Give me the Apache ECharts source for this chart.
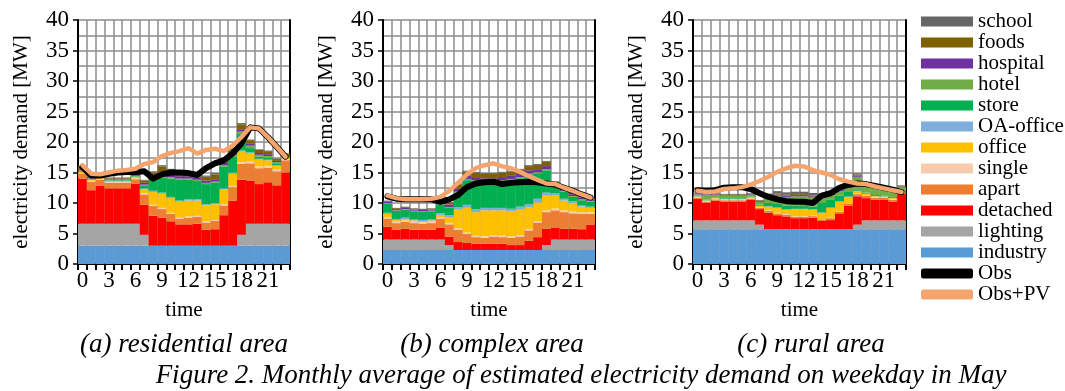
<!DOCTYPE html>
<html>
<head>
<meta charset="utf-8">
<script src="https://cdn.jsdelivr.net/npm/echarts@6/dist/echarts.min.js"></script>
<style>
html,body{margin:0;padding:0;background:#fff;}
#c{width:1065px;height:391px;}
</style>
</head>
<body>
<div id="c"></div>
<script>
// ---------- categories / ticks ----------
const hours = ['0','1','2','3','4','5','6','7','8','9','10','11','12','13','14','15','16','17','18','19','20','21','22','23'];
const yTicks = [0,5,10,15,20,25,30,35,40];

// ---------- (a) residential area ----------
const industryA  = [3.0,3.0,3.0,3.0,3.0,3.0,3.0,3.0,3.0,3.0,3.0,3.0,3.0,3.0,3.0,3.0,3.0,3.0,3.0,3.0,3.0,3.0,3.0,3.0];
const lightingA  = [3.6,3.6,3.6,3.6,3.6,3.6,3.6,1.8,0,0,0,0,0,0,0,0,0,0,1.8,3.6,3.6,3.6,3.6,3.6];
const detachedA  = [7.4,5.5,6.2,5.8,5.8,5.8,6.6,4.9,4.9,4.6,4.0,3.5,3.5,3.6,2.6,2.7,5.0,7.4,9.0,7.1,6.5,6.8,6.3,8.4];
const apartA     = [0.8,1.4,1.0,0.9,0.9,0.9,0.7,1.7,1.6,1.4,1.2,0.9,1.1,1.1,1.2,1.4,1.6,2.2,2.6,2.8,2.6,2.4,2.3,2.0];
const singleA    = [0.15,0.15,0.15,0.15,0.15,0.15,0.15,0.2,0.2,0.2,0.2,0.2,0.2,0.2,0.2,0.2,0.2,0.2,0.3,0.3,0.3,0.3,0.3,0.2];
const officeA    = [0.15,0.15,0.15,0.15,0.15,0.15,0.15,0.6,2.1,2.3,2.4,2.6,2.6,2.5,2.6,2.5,2.4,2.0,1.7,1.3,1.1,0.9,0.6,0.2];
const oaOfficeA  = [0.05,0.05,0.05,0.05,0.05,0.05,0.05,0.2,0.2,0.2,0.2,0.2,0.2,0.2,0.2,0.2,0.2,0.2,0.2,0.2,0.2,0.1,0.1,0.1];
const storeA     = [0.1,0.1,0.1,0.1,0.1,0.1,0.1,0.4,1.8,2.5,3.0,3.4,3.2,3.0,3.3,3.3,3.6,2.6,2.7,0.7,0.3,0.3,0.2,0.1];
const hotelA     = [0.1,0.1,0.1,0.1,0.1,0.1,0.1,0.2,0.2,0.3,0.2,0.2,0.2,0.2,0.2,0.2,0.2,0.3,0.4,0.4,0.3,0.3,0.3,0.1];
const hospitalA  = [0.15,0.15,0.15,0.15,0.15,0.15,0.2,0.3,0.4,0.5,0.4,0.4,0.4,0.4,0.4,0.4,0.4,0.4,0.4,0.3,0.3,0.3,0.2,0.2];
const foodsA     = [0.5,0.15,0.15,0.15,0.15,0.15,0.5,0.4,0.6,1.0,0.8,0.5,0.5,0.5,0.6,0.8,0.6,0.6,0.8,0.6,0.5,0.5,0.3,0.2];
const schoolA    = [0.05,0.05,0.05,0.05,0.05,0.05,0.05,0.1,0.2,0.2,0.2,0.2,0.2,0.2,0.2,0.2,0.2,0.2,0.2,0.1,0.1,0.1,0.1,0.1];
const obsA       = [15.9,14.5,14.5,14.8,15.0,15.1,15.1,15.2,14.0,14.7,15.0,15.0,14.9,14.6,15.7,16.5,17.0,18.1,19.8,22.4,22.2,20.8,19.2,17.6];
const obsPvA     = [16.2,14.8,14.7,15.0,15.3,15.4,15.6,16.4,16.7,17.7,18.2,18.5,19.0,18.1,18.7,18.9,18.5,19.4,20.8,22.4,22.2,20.8,19.2,17.6];

// ---------- (b) complex area ----------
const industryB  = [2.3,2.3,2.3,2.3,2.3,2.3,2.3,2.3,2.3,2.3,2.3,2.3,2.3,2.3,2.3,2.3,2.3,2.3,2.3,2.3,2.3,2.3,2.3,2.3];
const lightingB  = [1.7,1.7,1.7,1.7,1.7,1.7,1.7,0.8,0,0,0,0,0,0,0,0,0,0,0.8,1.7,1.7,1.7,1.7,1.7];
const detachedB  = [2.1,1.6,1.75,1.6,1.6,1.6,1.9,1.4,1.3,1.15,1.0,1.0,1.0,1.0,0.8,0.8,1.5,2.1,2.65,2.0,1.8,1.8,1.7,2.4];
const apartB     = [1.3,1.1,1.15,1.1,1.0,1.1,1.5,2.0,2.0,1.45,1.1,1.0,1.2,1.1,1.2,1.4,1.7,2.4,2.75,2.8,2.7,2.5,2.5,1.8];
const singleB    = [0.25,0.25,0.25,0.25,0.25,0.25,0.25,0.25,0.25,0.25,0.25,0.25,0.25,0.25,0.25,0.25,0.25,0.25,0.3,0.3,0.3,0.3,0.3,0.3];
const officeB    = [0.55,0.25,0.25,0.2,0.2,0.2,0.4,0.95,3.05,4.05,3.85,4.25,4.05,4.15,4.1,4.15,3.55,3.05,2.4,2.1,1.6,1.4,0.9,0.7];
const oaOfficeB  = [0.2,0.2,0.2,0.2,0.2,0.2,0.3,0.3,0.4,0.5,0.5,0.4,0.4,0.4,0.4,0.5,0.5,0.6,0.5,0.4,0.3,0.3,0.2,0.2];
const storeB     = [1.5,1.3,1.3,1.3,1.3,1.3,1.4,1.2,2.35,4.05,4.55,4.15,4.15,4.35,4.7,4.65,4.85,4.15,3.65,0.9,1.15,0.7,0.85,0.8];
const hotelB     = [0.1,0.1,0.1,0.1,0.1,0.1,0.1,0.15,0.2,0.2,0.2,0.2,0.2,0.2,0.2,0.2,0.2,0.2,0.2,0.15,0.15,0.15,0.15,0.15];
const hospitalB  = [0.2,0.2,0.2,0.2,0.2,0.2,0.3,0.4,0.5,0.5,0.5,0.5,0.5,0.5,0.5,0.5,0.5,0.5,0.5,0.4,0.3,0.3,0.3,0.2];
const foodsB     = [0.15,0.15,0.15,0.15,0.15,0.15,0.2,0.3,0.7,0.7,0.7,0.7,0.7,0.7,0.7,0.7,0.7,0.7,0.7,0.4,0.3,0.3,0.2,0.2];
const schoolB    = [0.05,0.05,0.05,0.05,0.05,0.05,0.05,0.1,0.15,0.15,0.15,0.15,0.15,0.15,0.15,0.15,0.15,0.15,0.15,0.1,0.1,0.1,0.1,0.1];
const obsB       = [11.1,10.7,10.6,10.6,10.6,10.6,10.2,10.6,11.3,12.6,13.2,13.4,13.5,13.1,13.3,13.4,13.5,13.4,13.2,13.0,12.5,12.0,11.4,10.9];
const obsPvB     = [11.2,10.8,10.6,10.6,10.6,10.7,11.0,12.0,13.3,14.7,15.7,16.2,16.5,16.0,15.7,15.1,14.4,13.8,13.2,13.1,12.5,12.0,11.4,10.9];

// ---------- (c) rural area ----------
const industryC  = [5.7,5.7,5.7,5.7,5.7,5.7,5.7,5.7,5.7,5.7,5.7,5.7,5.7,5.7,5.7,5.7,5.7,5.7,5.7,5.7,5.7,5.7,5.7,5.7];
const lightingC  = [1.45,1.45,1.45,1.45,1.45,1.45,1.45,0.75,0,0,0,0,0,0,0,0,0,0,0.75,1.45,1.45,1.45,1.45,1.45];
const detachedC  = [3.5,2.85,3.25,3.1,3.1,3.1,3.35,2.55,2.7,2.3,2.1,1.8,1.8,1.9,1.35,1.5,2.6,3.9,4.65,3.65,3.35,3.35,3.1,4.35];
const apartC     = [0.2,0.2,0.2,0.2,0.2,0.2,0.2,0.2,0.3,0.3,0.3,0.25,0.25,0.25,0.25,0.3,0.3,0.3,0.35,0.35,0.35,0.35,0.3,0.25];
const singleC    = [0.1,0.1,0.1,0.1,0.1,0.1,0.1,0.1,0.1,0.1,0.1,0.1,0.1,0.1,0.1,0.1,0.1,0.1,0.1,0.1,0.1,0.1,0.1,0.1];
const officeC    = [0.1,0.1,0.1,0.1,0.1,0.1,0.1,0.2,0.6,0.8,0.7,1.15,1.15,0.95,1.0,1.6,1.5,1.0,0.35,0.25,0.15,0.1,0.15,0.05];
const oaOfficeC  = [0.05,0.05,0.05,0.05,0.05,0.05,0.05,0.05,0.05,0.05,0.05,0.05,0.05,0.05,0.05,0.05,0.05,0.05,0.05,0.05,0.05,0.05,0.05,0.05];
const storeC     = [0.1,0.1,0.1,0.1,0.1,0.1,0.1,0.2,0.55,0.65,0.65,0.55,0.45,0.45,1.65,1.35,0.95,0.75,0.15,0.15,0.15,0.15,0.15,0.05];
const hotelC     = [0.2,0.8,0.4,0.4,0.4,0.4,0.3,0.4,0.8,1.3,1.4,1.5,1.6,1.5,0.7,0.7,0.8,0.7,2.2,1.2,1.2,1.2,1.1,0.6];
const hospitalC  = [0.1,0.1,0.1,0.1,0.1,0.1,0.1,0.15,0.2,0.2,0.2,0.2,0.2,0.2,0.2,0.2,0.2,0.2,0.2,0.1,0.1,0.1,0.1,0.1];
const foodsC     = [0.1,0.1,0.1,0.1,0.1,0.1,0.1,0.1,0.15,0.15,0.15,0.15,0.15,0.15,0.15,0.15,0.15,0.15,0.15,0.1,0.1,0.1,0.1,0.1];
const schoolC    = [0.1,0.1,0.1,0.1,0.1,0.1,0.1,0.1,0.4,0.4,0.4,0.4,0.4,0.4,0.4,0.2,0.2,0.2,0.2,0.1,0.1,0.1,0.1,0.1];
const obsC       = [12.1,12.0,12.1,12.5,12.6,12.6,12.3,11.6,11.0,10.6,10.3,10.2,10.2,10.0,11.2,11.6,12.5,13.0,13.2,13.1,12.8,12.5,12.2,11.8];
const obsPvC     = [12.0,11.8,11.9,12.3,12.4,12.6,13.0,13.6,14.3,15.1,15.7,16.1,16.0,15.4,15.0,14.6,13.9,13.5,13.2,13.1,12.7,12.4,12.1,11.8];

// ---------- labels / colours ----------
const layerNames = ['industry','lighting','detached','apart','single','office','OA-office','store','hotel','hospital','foods','school'];
const layerColors = ['#5B9BD5','#A5A5A5','#FF0000','#ED7D31','#F8CBAD','#FFC000','#7FAEDC','#00B050','#70AD47','#7030A0','#7F6000','#666666'];
const panelLayers = [
  [industryA,lightingA,detachedA,apartA,singleA,officeA,oaOfficeA,storeA,hotelA,hospitalA,foodsA,schoolA],
  [industryB,lightingB,detachedB,apartB,singleB,officeB,oaOfficeB,storeB,hotelB,hospitalB,foodsB,schoolB],
  [industryC,lightingC,detachedC,apartC,singleC,officeC,oaOfficeC,storeC,hotelC,hospitalC,foodsC,schoolC]
];
const panelObs = [obsA, obsB, obsC];
const panelObsPv = [obsPvA, obsPvB, obsPvC];
const panelTitles = ['(a) residential area','(b) complex area','(c) rural area'];
const captionText = 'Figure 2. Monthly average of estimated electricity demand on weekday in May';
const obsColor = '#000000';
const obsPvColor = '#F4A46C';

const FONT = 'Liberation Serif';
const gridBoxes = [
  {left:78, top:20, width:212, height:244},
  {left:383, top:20, width:212, height:244},
  {left:693, top:20, width:213, height:244}
];
const gridColor = '#8c8c8c';

const xAxes = [], yAxes = [], series = [];
gridBoxes.forEach((g, i) => {
  xAxes.push({
    type:'category', gridIndex:i, data:hours, boundaryGap:true,
    name:'time', nameLocation:'middle', nameGap:36,
    nameTextStyle:{fontFamily:FONT, fontSize:21, color:'#000'},
    axisLine:{show:true, lineStyle:{color:'#000', width:2}},
    axisTick:{show:true, interval:0, length:6, lineStyle:{color:'#000', width:2}},
    axisLabel:{interval:2, fontFamily:FONT, fontSize:23, color:'#000', margin:5},
    splitLine:{show:true, interval:0, lineStyle:{color:gridColor, width:1.5}}
  });
  yAxes.push({
    type:'value', gridIndex:i, min:0, max:40, interval:5, position:'left',
    name:'electricity demand [MW]', nameLocation:'middle', nameGap:46,
    nameTextStyle:{fontFamily:FONT, fontSize:21, color:'#000'},
    axisLine:{show:true, lineStyle:{color:'#000', width:2}},
    axisTick:{show:true, length:5, lineStyle:{color:'#000', width:1.5}},
    axisLabel:{fontFamily:FONT, fontSize:23, color:'#000', margin:9},
    splitLine:{show:true, lineStyle:{color:gridColor, width:1.5}},
    minorTick:{show:false, splitNumber:2},
    minorSplitLine:{show:true, lineStyle:{color:gridColor, width:1.5}}
  });
});
// right-hand frame lines
gridBoxes.forEach((g, i) => {
  yAxes.push({
    type:'value', gridIndex:i, min:0, max:40, interval:5, position:'right',
    axisLine:{show:true, lineStyle:{color:'#000', width:2}},
    axisTick:{show:false}, axisLabel:{show:false}, splitLine:{show:false}
  });
});

panelLayers.forEach((layers, i) => {
  layers.forEach((arr, k) => {
    series.push({
      type:'bar', name:layerNames[k], xAxisIndex:i, yAxisIndex:i, stack:'s'+i,
      data:arr, barCategoryGap:'0%', barGap:'0%',
      itemStyle:{color:layerColors[k]}, emphasis:{disabled:true}
    });
  });
});
panelObs.forEach((arr, i) => {
  series.push({
    type:'line', name:'Obs', xAxisIndex:i, yAxisIndex:i, data:arr,
    symbol:'none', smooth:false, z:5,
    lineStyle:{color:obsColor, width:6, cap:'round', join:'round'},
    itemStyle:{color:obsColor}
  });
});
panelObsPv.forEach((arr, i) => {
  series.push({
    type:'line', name:'Obs+PV', xAxisIndex:i, yAxisIndex:i, data:arr,
    symbol:'none', smooth:false, z:6,
    lineStyle:{color:obsPvColor, width:4.5, cap:'round', join:'round'},
    itemStyle:{color:obsPvColor}
  });
});

const legendOrder = ['school','foods','hospital','hotel','store','OA-office','office','single','apart','detached','lighting','industry'];
const legendData = legendOrder.map(n => ({name:n, icon:'rect'}));
legendData.push({name:'Obs', icon:'roundRect'});
legendData.push({name:'Obs+PV', icon:'roundRect'});

const graphics = [];
const titleX = [184, 492, 811];
panelTitles.forEach((t, i) => {
  graphics.push({type:'text', x:titleX[i], y:345, style:{text:t, font:'italic 27px "Liberation Serif"', fill:'#000', align:'center', verticalAlign:'middle'}});
});
graphics.push({type:'text', x:581, y:376, style:{text:captionText, font:'italic 27px "Liberation Serif"', fill:'#000', align:'center', verticalAlign:'middle'}});

const chart = echarts.init(document.getElementById('c'), null, {renderer:'canvas'});
chart.setOption({
  animation:false,
  backgroundColor:'#fff',
  grid:gridBoxes,
  xAxis:xAxes,
  yAxis:yAxes,
  legend:{
    data:legendData, orient:'vertical', left:916, top:6,
    itemWidth:52, itemHeight:10, itemGap:0,
    textStyle:{fontFamily:FONT, fontSize:21, lineHeight:21, color:'#000'},
    selectedMode:false
  },
  series:series,
  graphic:graphics
});
</script>
</body>
</html>
